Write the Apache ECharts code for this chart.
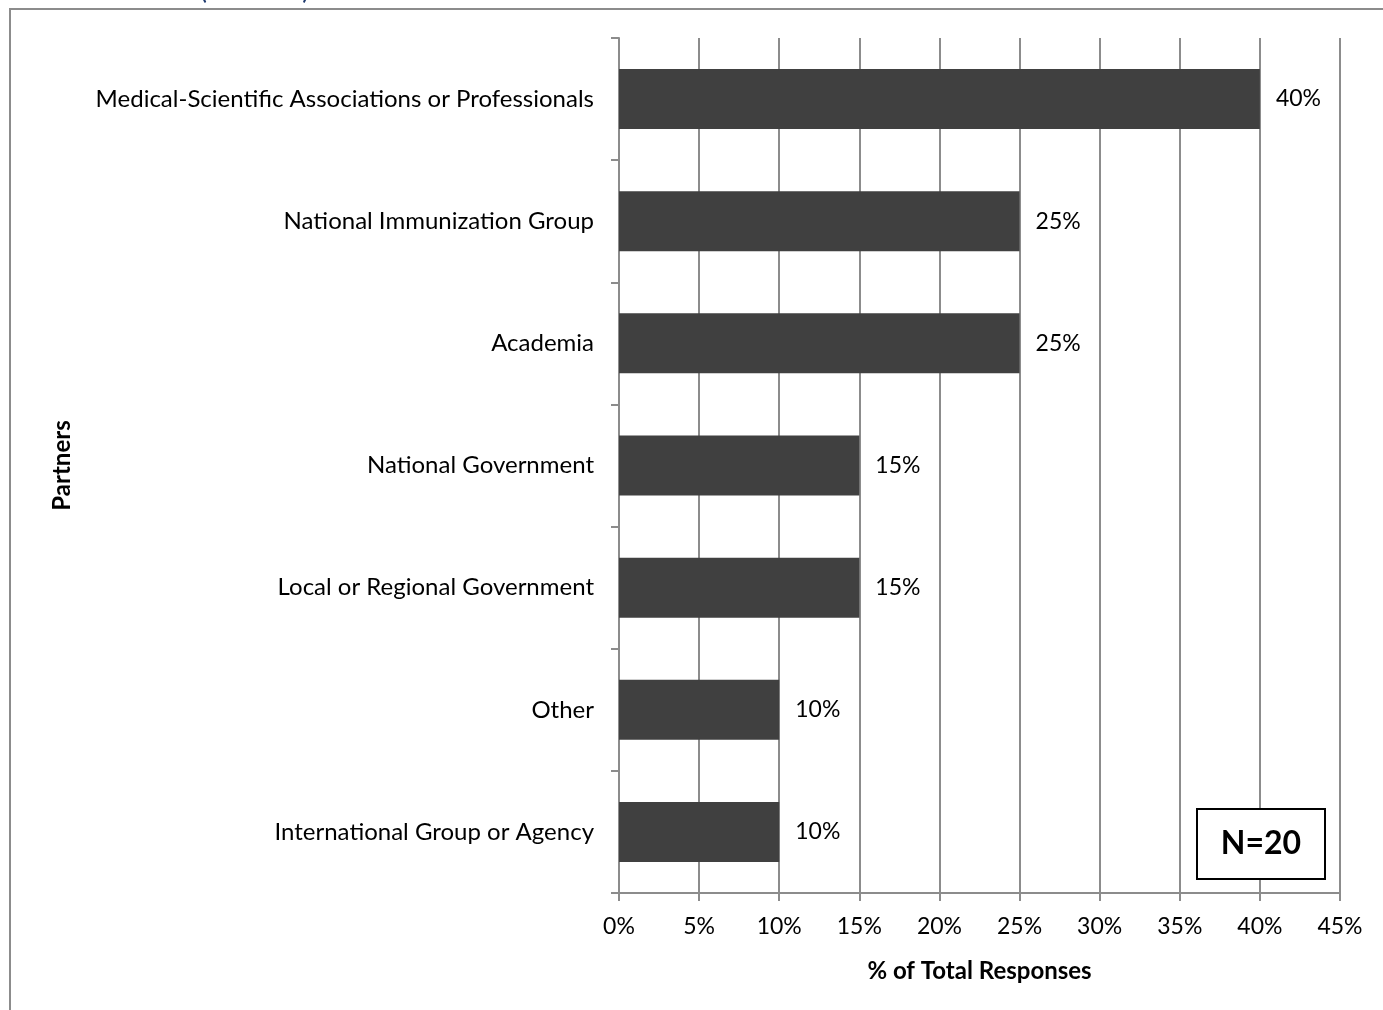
<!DOCTYPE html>
<html>
<head>
    <meta charset="UTF-8">
    <title>Partners</title>
    <script src="https://cdn.jsdelivr.net/npm/echarts@6/dist/echarts.min.js"></script>
</head>
<body style="margin:0;overflow:hidden;background:#fff;">
<div id="chart" style="width:1383px;height:1010px;"></div>
<script type="text/javascript">
    // categories top to bottom
    var partners = [
        'Medical-Scientific Associations or Professionals',
        'National Immunization Group',
        'Academia',
        'National Government',
        'Local or Regional Government',
        'Other',
        'International Group or Agency'
    ];
    var shares = [40, 25, 25, 15, 15, 10, 10];
    var xTicks = [0, 5, 10, 15, 20, 25, 30, 35, 40, 45];

    var font = 'Lato, "Open Sans", sans-serif';
    var gridGray = '#8c8c8c';

    var chart = echarts.init(document.getElementById('chart'));
    var option = {
        backgroundColor: '#fff',
        animation: false,
        textStyle: {fontFamily: font},
        grid: {left: 619, right: 43, top: 38, bottom: 117},
        xAxis: {
            type: 'value',
            min: xTicks[0],
            max: xTicks[xTicks.length - 1],
            interval: 5,
            name: '% of Total Responses',
            nameLocation: 'middle',
            nameGap: 66,
            nameTextStyle: {fontFamily: font, fontSize: 24, fontWeight: 'bold', color: '#000'},
            axisLine: {show: true, lineStyle: {color: gridGray, width: 2}},
            axisTick: {show: true, length: 8, lineStyle: {color: gridGray, width: 2}},
            axisLabel: {formatter: '{value}%', fontSize: 23, color: '#000', margin: 22, fontFamily: font},
            splitLine: {show: true, lineStyle: {color: gridGray, width: 2}}
        },
        yAxis: {
            type: 'category',
            inverse: true,
            data: partners,
            name: 'Partners',
            nameLocation: 'middle',
            nameRotate: 90,
            nameGap: 545,
            nameTextStyle: {fontFamily: font, fontSize: 24, fontWeight: 'bold', color: '#000'},
            axisLine: {show: true, lineStyle: {color: gridGray, width: 2}},
            axisTick: {show: true, length: 8, lineStyle: {color: gridGray, width: 2}},
            axisLabel: {fontSize: 24, color: '#000', margin: 25, fontFamily: font}
        },
        series: [{
            type: 'bar',
            data: shares,
            barWidth: 60,
            itemStyle: {color: '#404040'},
            label: {
                show: true,
                position: 'right',
                distance: 16,
                formatter: '{c}%',
                fontSize: 23,
                color: '#000',
                fontFamily: font
            }
        }],
        graphic: [
            {
                type: 'rect',
                shape: {x: 10, y: 9, width: 1420, height: 1100},
                style: {fill: 'none', stroke: '#8c8c8c', lineWidth: 2},
                silent: true
            },
            {
                type: 'text',
                left: 200,
                top: -22,
                style: {text: '(Partners)', fill: '#1f3a6e', font: '26px ' + font}
            },
            {
                type: 'rect',
                shape: {x: 1197, y: 809, width: 128, height: 70},
                style: {fill: '#fff', stroke: '#000', lineWidth: 2},
                z: 10
            },
            {
                type: 'text',
                x: 1261,
                y: 844,
                style: {
                    text: 'N=20',
                    fill: '#000',
                    font: 'bold 32px ' + font,
                    textAlign: 'center',
                    textVerticalAlign: 'middle'
                },
                z: 11
            }
        ]
    };
    chart.setOption(option);
</script>
</body>
</html>
